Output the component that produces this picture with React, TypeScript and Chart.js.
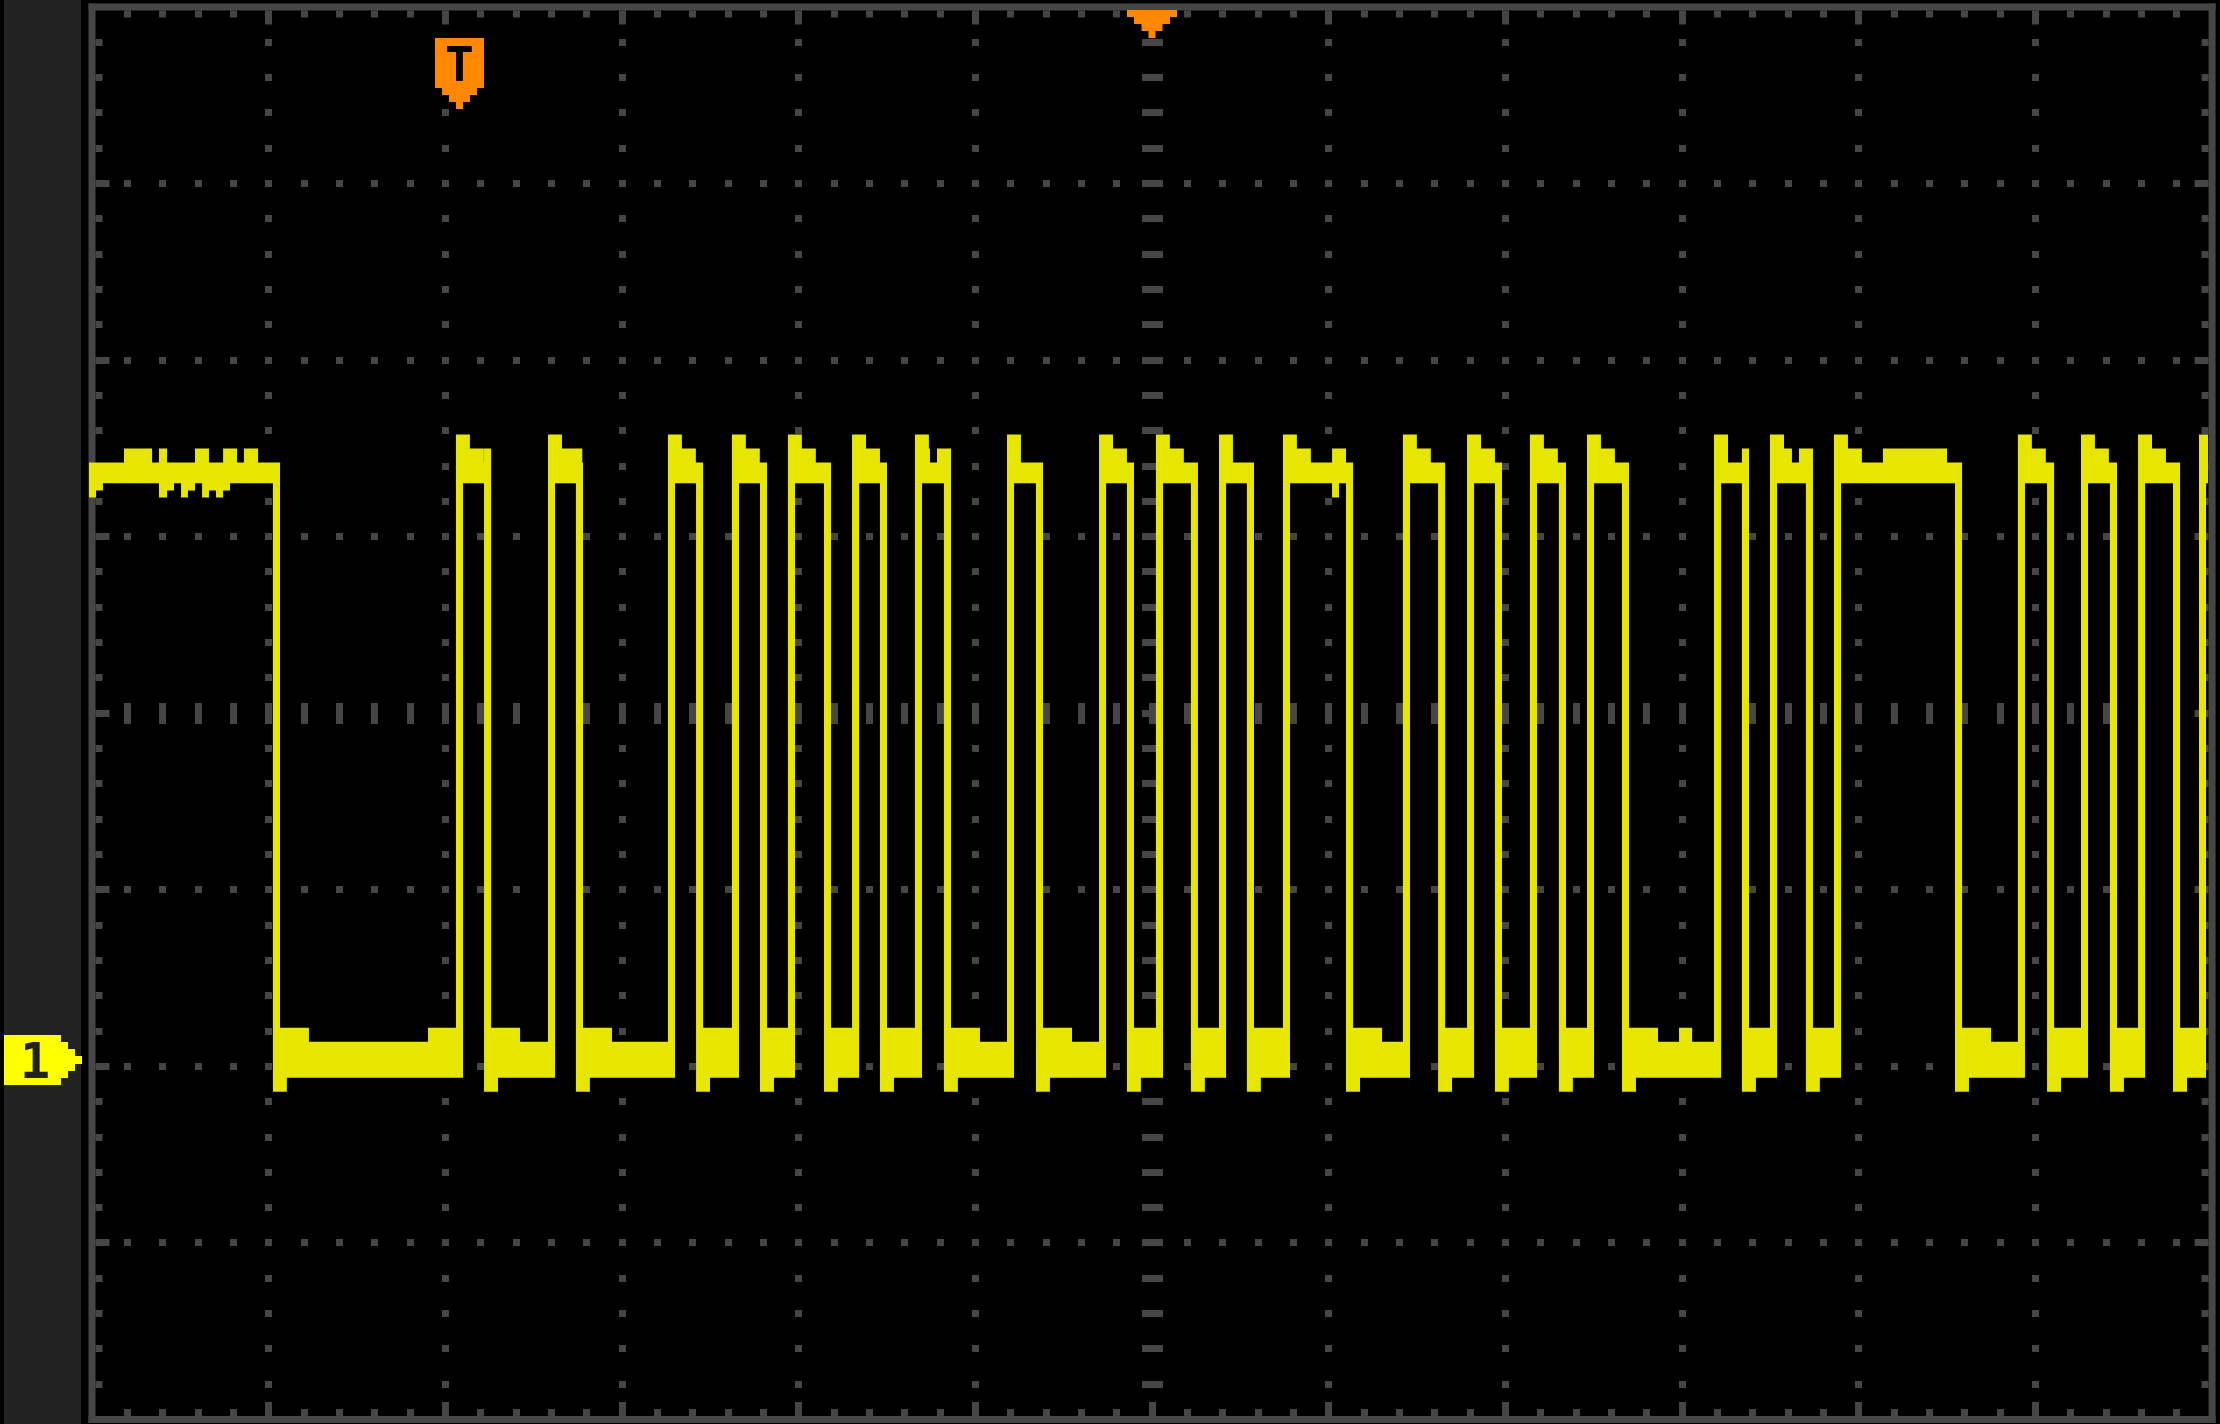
import React, { useEffect, useRef } from 'react';
import { Chart, registerables } from 'chart.js';

Chart.register(...registerables);

// Time axis in screen divisions (12 across), CH1 amplitude in divisions (8 high, 0 = centre).
const X_MIN = -0.017;
const X_MAX = 11.977;
const Y_MIN = -4;
const Y_MAX = 4;
const MINOR = 0.2;

// Logic edges of CH1, alternately falling / rising (trace starts high).
const edgeTimes = [
  1.044, 2.080, 2.239, 2.601, 2.759, 3.280, 3.439, 3.642, 3.801, 3.959,
  4.163, 4.322, 4.480, 4.678, 4.842, 5.199, 5.363, 5.720, 5.878, 6.042,
  6.240, 6.399, 6.557, 6.761, 7.118, 7.440, 7.639, 7.803, 7.961, 8.159,
  8.323, 8.482, 8.680, 9.201, 9.359, 9.518, 9.721, 9.880, 10.565, 10.921,
  11.086, 11.278, 11.442, 11.601, 11.799, 11.946,
];

// Noisy idle-high section before the first edge: [time, level]
const startTopSteps: [number, number][] = [
  [-0.017, 1.42], [0.181, 1.5], [0.34, 1.42], [0.379, 1.5], [0.425, 1.42],
  [0.583, 1.5], [0.662, 1.42], [0.742, 1.5], [0.821, 1.42], [0.86, 1.5], [0.94, 1.42],
];
const startBottomSteps: [number, number][] = [
  [-0.017, 1.222], [0.023, 1.262], [0.062, 1.302], [0.379, 1.222], [0.425, 1.262],
  [0.464, 1.302], [0.504, 1.222], [0.543, 1.262], [0.583, 1.302], [0.623, 1.222],
  [0.662, 1.262], [0.702, 1.222], [0.742, 1.262], [0.781, 1.302],
];

// Extra noise blips on the trace envelope: [from, to, level]
const topNoise: [number, number, number][] = [
  [1.902, 2.060, -1.781],
  [4.743, 4.783, 1.42], [4.783, 4.862, 1.5],
  [5.258, 5.337, 1.42],
  [6.458, 6.537, 1.42],
  [7.019, 7.098, 1.5],
  [8.983, 9.057, -1.781],
  [9.260, 9.339, 1.42], [9.339, 9.379, 1.5],
  [9.622, 9.662, 1.42], [9.662, 9.741, 1.5],
  [10.137, 10.5, 1.5],
  [2.219, 2.259, 1.5], [2.735, 2.775, 1.5],
];
const bottomNoise: [number, number, number][] = [
  [7.019, 7.058, 1.222],
];

// Trace band levels (bottom, top) and ringing after the edges
const highBand = [1.302, 1.42];
const lowBand = [-2.064, -1.86];
const riseOvershootLevels = [1.579, 1.5];
const riseOvershootWidths = [0.079, 0.079];
const fallUndershoot = [-2.144, 0.079]; // level, duration
const lowRinging = [-1.781, 0.204]; // level, duration
const edgeWidth = 0.04;

const triggerTime = 2.08;
const centerTime = 6;
const channelGround = -1.962;

const TRACE = '#e6e600';
const GRID = '#464646';
const PANEL = '#222222';
const ORANGE = '#ff8800';
const CH1 = '#ffff00';

type P = { x: number; y: number };

function valueAt(pts: P[], x: number) {
  let v = pts[0].y;
  for (const p of pts) {
    if (p.x <= x) v = p.y;
    else break;
  }
  return v;
}

function override(pts: P[], x0: number, x1: number, y: number): P[] {
  const after = valueAt(pts, x1);
  const kept = pts.filter((p) => p.x < x0 || p.x > x1);
  kept.push({ x: x0, y }, { x: x1, y: after });
  kept.sort((a, b) => a.x - b.x);
  return kept;
}

function buildTrace() {
  let top: P[] = startTopSteps.map(([x, y]) => ({ x, y }));
  let bot: P[] = startBottomSteps.map(([x, y]) => ({ x, y }));
  const hw = edgeWidth / 2;
  edgeTimes.forEach((t, i) => {
    const left = t - hw;
    const right = t + hw;
    const nextLeft = i + 1 < edgeTimes.length ? edgeTimes[i + 1] - hw : X_MAX;
    if (i % 2 === 0) {
      top.push({ x: right, y: lowRinging[0] });
      if (left + lowRinging[1] < nextLeft) top.push({ x: left + lowRinging[1], y: lowBand[1] });
      bot.push({ x: left, y: fallUndershoot[0] });
      bot.push({ x: left + fallUndershoot[1], y: lowBand[0] });
    } else {
      const limit = Math.min(nextLeft + edgeWidth, X_MAX);
      top.push({ x: left, y: riseOvershootLevels[0] });
      let x = left + riseOvershootWidths[0];
      if (x < limit) top.push({ x, y: riseOvershootLevels[1] });
      x += riseOvershootWidths[1];
      if (x < limit) top.push({ x, y: highBand[1] });
      bot.push({ x: right, y: highBand[0] });
    }
  });
  top.push({ x: X_MAX, y: top[top.length - 1].y });
  bot.push({ x: X_MAX, y: bot[bot.length - 1].y });
  for (const [a, b, y] of topNoise) top = override(top, a, b, y);
  for (const [a, b, y] of bottomNoise) bot = override(bot, a, b, y);
  return { top, bot };
}

const scopePlugin = {
  id: 'scope',
  beforeDraw(chart: any) {
    const ctx = chart.ctx;
    ctx.save();
    ctx.fillStyle = '#000';
    ctx.fillRect(0, 0, chart.width, chart.height);
    ctx.fillStyle = PANEL;
    ctx.fillRect(4, 0, 77, chart.height);
    ctx.restore();
  },
  beforeDatasetsDraw(chart: any) {
    const ctx = chart.ctx;
    const xs = chart.scales.x;
    const ys = chart.scales.y;
    const X = (v: number) => xs.getPixelForValue(v);
    const Y = (v: number) => ys.getPixelForValue(v);
    const sq = (cx: number, cy: number, w: number, h: number) =>
      ctx.fillRect(Math.round(cx - w / 2), Math.round(cy - h / 2), w, h);
    ctx.save();
    ctx.fillStyle = GRID;
    for (let i = 1; i < 12; i++) {
      for (let k = 1; k < 40; k++) {
        const yv = Y_MIN + k * MINOR;
        if (i === centerTime) sq(X(i), Y(yv), 21, 7);
        else sq(X(i), Y(yv), 7, 7);
      }
    }
    for (let j = 1; j < 8; j++) {
      const yv = Y_MIN + j;
      for (let k = 1; k < 60; k++) {
        const xv = k * MINOR;
        if (yv === 0) sq(X(xv), Y(0), 7, 21);
        else sq(X(xv), Y(yv), 7, 7);
      }
    }
    const L = X(0), R = X(12), T = Y(Y_MAX), B = Y(Y_MIN);
    ctx.fillRect(L - 3.5, T - 3.5, R - L + 7, 7);
    ctx.fillRect(L - 3.5, B - 3.5, R - L + 7, 7);
    ctx.fillRect(L - 3.5, T - 3.5, 7, B - T + 7);
    ctx.fillRect(R - 3.5, T - 3.5, 7, B - T + 7);
    for (let k = 1; k < 60; k++) {
      const len = k % 5 === 0 ? 14 : 7;
      const px = Math.round(X(k * MINOR) - 3.5);
      ctx.fillRect(px, T + 3.5, 7, len);
      ctx.fillRect(px, B - 3.5 - len, 7, len);
    }
    for (let k = 1; k < 40; k++) {
      const len = k % 5 === 0 ? 14 : 7;
      const py = Math.round(Y(Y_MIN + k * MINOR) - 3.5);
      ctx.fillRect(L + 3.5, py, len, 7);
      ctx.fillRect(R - 3.5 - len, py, len, 7);
    }
    ctx.restore();
  },
  afterDatasetsDraw(chart: any) {
    const ctx = chart.ctx;
    const xs = chart.scales.x;
    const ys = chart.scales.y;
    const T = ys.getPixelForValue(Y_MAX);
    ctx.save();
    const tx = Math.round(xs.getPixelForValue(triggerTime) - 0.5) + 0.5;
    ctx.fillStyle = ORANGE;
    ctx.fillRect(tx - 24.5, T + 31, 49, 50);
    ctx.fillRect(tx - 17.5, T + 81, 35, 7);
    ctx.fillRect(tx - 10.5, T + 88, 21, 7);
    ctx.fillRect(tx - 3.5, T + 95, 7, 7);
    ctx.fillStyle = '#000';
    ctx.font = 'bold 48px "DejaVu Sans Mono", monospace';
    ctx.textAlign = 'center';
    ctx.textBaseline = 'alphabetic';
    ctx.fillText('T', tx, T + 74);
    const cx = Math.round(xs.getPixelForValue(centerTime));
    ctx.fillStyle = ORANGE;
    ctx.fillRect(cx - 25, T + 3, 50, 7);
    ctx.fillRect(cx - 18, T + 10, 36, 7);
    ctx.fillRect(cx - 10.5, T + 17, 21, 7);
    ctx.fillRect(cx - 3.5, T + 24, 7, 7);
    const gy = Math.round(ys.getPixelForValue(channelGround));
    ctx.fillStyle = CH1;
    ctx.fillRect(4, gy - 25, 57, 50);
    ctx.fillRect(61, gy - 18, 7, 36);
    ctx.fillRect(68, gy - 11, 7, 22);
    ctx.fillRect(75, gy - 4, 7, 8);
    ctx.fillStyle = PANEL;
    ctx.font = 'bold 50px "DejaVu Sans Mono", monospace';
    ctx.fillText('1', 35, gy + 18);
    ctx.restore();
  },
};

export default function App() {
  const ref = useRef<HTMLCanvasElement>(null);
  useEffect(() => {
    document.body.style.margin = '0';
    document.body.style.background = '#000';
    const { top, bot } = buildTrace();
    const chart = new Chart(ref.current as HTMLCanvasElement, {
      type: 'line',
      data: {
        datasets: [
          {
            label: 'CH1 upper',
            data: top,
            stepped: 'before',
            borderWidth: 0,
            borderColor: 'rgba(0,0,0,0)',
            pointRadius: 0,
            backgroundColor: TRACE,
            fill: '+1',
          },
          {
            label: 'CH1 lower',
            data: bot,
            stepped: 'before',
            borderWidth: 0,
            borderColor: 'rgba(0,0,0,0)',
            pointRadius: 0,
            fill: false,
          },
        ],
      },
      options: {
        animation: false,
        responsive: false,
        devicePixelRatio: 1,
        events: [],
        layout: { padding: { left: 89, right: 12, top: 7, bottom: 4.5 } },
        scales: {
          x: { type: 'linear', min: X_MIN, max: X_MAX, display: false },
          y: { type: 'linear', min: Y_MIN, max: Y_MAX, display: false },
        },
        plugins: {
          legend: { display: false },
          tooltip: { enabled: false },
        },
      },
      plugins: [scopePlugin],
    } as any);
    return () => chart.destroy();
  }, []);
  return <canvas ref={ref} width={2220} height={1424} style={{ display: 'block', width: 2220, height: 1424 }} />;
}
